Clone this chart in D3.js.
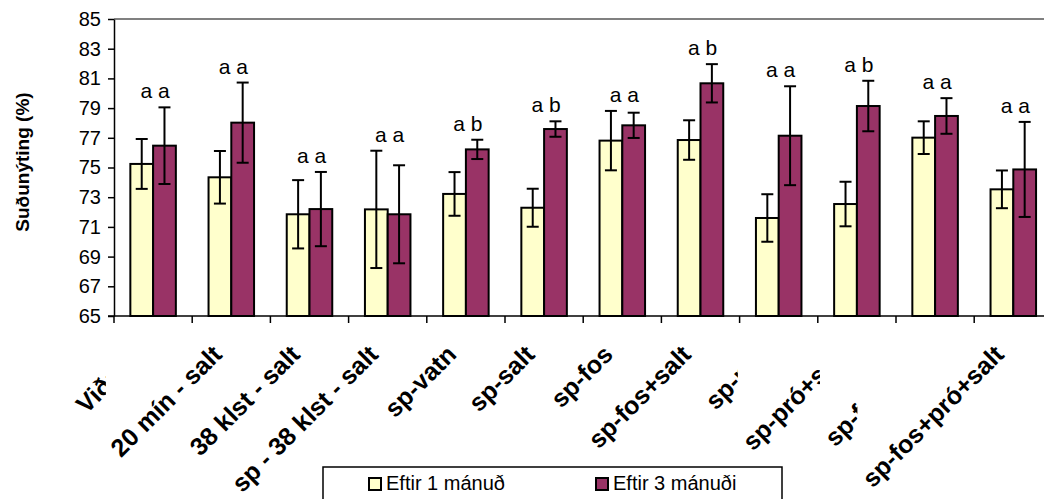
<!DOCTYPE html>
<html>
<head>
<meta charset="utf-8">
<script src="https://cdn.jsdelivr.net/npm/d3@7"></script>
<style>
  body { margin: 0; background: #fff; }
  svg { display: block; font-family: "Liberation Sans", Arial, sans-serif; }
</style>
</head>
<body>
<script>
// gögn lesin af myndinni
var categories = ["Viðmið", "20 mín - salt", "38 klst - salt", "sp - 38 klst - salt", "sp-vatn", "sp-salt",
                  "sp-fos", "sp-fos+salt", "sp-pró", "sp-pró+salt", "sp-fos+pró", "sp-fos+pró+salt"];
var month1 = [75.24, 74.34, 71.85, 72.18, 73.22, 72.29, 76.81, 76.85, 71.6, 72.54, 77.01, 73.53];
var month1Err = [1.68, 1.77, 2.3, 3.95, 1.47, 1.28, 2.0, 1.33, 1.6, 1.5, 1.1, 1.27];
var month3 = [76.47, 78.02, 72.2, 71.85, 76.22, 77.59, 77.84, 80.67, 77.14, 79.14, 78.47, 74.87];
var month3Err = [2.58, 2.7, 2.5, 3.3, 0.65, 0.52, 0.85, 1.29, 3.33, 1.7, 1.2, 3.2];
var sigLabels = ["a a", "a a", "a a", "a a", "a b", "a b", "a a", "a b", "a a", "a b", "a a", "a a"];
var seriesNames = ["Eftir 1 mánuð", "Eftir 3 mánuði"];
var yTicks = [65, 67, 69, 71, 73, 75, 77, 79, 81, 83, 85];
var clippedLabels = [0, 8, 9, 10]; // Excel felur hluta þessara merkja

var width = 1044, height = 499;
var plotLeft = 114, plotTop = 19, plotBottom = 316;
var step = 78.2;
var colors = ["#FFFFCC", "#993366"];

var svg = d3.select("body").append("svg")
            .attr("width", width)
            .attr("height", height);

var x0 = d3.scaleBand()
           .domain(categories)
           .range([plotLeft, plotLeft + step * categories.length])
           .paddingInner(0.418)
           .paddingOuter(0.209);

var x1 = d3.scaleBand()
           .domain([0, 1])
           .range([0, x0.bandwidth()]);

var y = d3.scaleLinear().domain([65, 85]).range([plotBottom, plotTop]);

// efri rammi
svg.append("line")
   .attr("x1", plotLeft).attr("x2", width)
   .attr("y1", plotTop).attr("y2", plotTop)
   .style("stroke", "#808080").style("stroke-width", 2);

var rows = categories.map(function(c, i) {
  return {cat: c, i: i,
          vals: [{s: 0, v: month1[i], e: month1Err[i]}, {s: 1, v: month3[i], e: month3Err[i]}]};
});

var groups = svg.selectAll("g.grp")
                .data(rows)
                .enter()
                .append("g")
                .attr("class", "grp")
                .attr("transform", function(d) { return "translate(" + x0(d.cat) + ",0)"; });

groups.selectAll("rect")
      .data(function(d) { return d.vals; })
      .enter()
      .append("rect")
      .attr("x", function(d) { return x1(d.s); })
      .attr("y", function(d) { return y(d.v); })
      .attr("width", x1.bandwidth())
      .attr("height", function(d) { return y(65) - y(d.v); })
      .attr("fill", function(d) { return colors[d.s]; })
      .style("stroke", "#000").style("stroke-width", 2);

// villustrik
var err = groups.selectAll("g.err")
                .data(function(d) { return d.vals; })
                .enter()
                .append("g")
                .attr("class", "err")
                .style("stroke", "#000").style("stroke-width", 2);

err.append("line")
   .attr("x1", function(d) { return x1(d.s) + x1.bandwidth() / 2; })
   .attr("x2", function(d) { return x1(d.s) + x1.bandwidth() / 2; })
   .attr("y1", function(d) { return y(d.v + d.e); })
   .attr("y2", function(d) { return y(d.v - d.e); });

[1, -1].forEach(function(sign) {
  err.append("line")
     .attr("x1", function(d) { return x1(d.s) + x1.bandwidth() / 2 - 6; })
     .attr("x2", function(d) { return x1(d.s) + x1.bandwidth() / 2 + 6; })
     .attr("y1", function(d) { return y(d.v + sign * d.e); })
     .attr("y2", function(d) { return y(d.v + sign * d.e); });
});

groups.append("text")
      .attr("x", x0.bandwidth() / 2 + 2)
      .attr("y", function(d) {
        return y(d3.max(d.vals, function(v) { return v.v + v.e; })) - 9;
      })
      .attr("text-anchor", "middle")
      .style("font-size", "21px")
      .text(function(d) { return sigLabels[d.i]; });

// y-ás
var yAxis = svg.append("g")
               .attr("transform", "translate(" + plotLeft + ",0)")
               .call(d3.axisLeft(y).tickValues(yTicks).tickSize(6).tickPadding(7).tickSizeOuter(0));
yAxis.selectAll("text").style("font-size", "20px").attr("fill", "#000");
yAxis.attr("font-family", null);
yAxis.selectAll("line, path").style("stroke", "#000").style("stroke-width", 1.5);

svg.append("text")
   .attr("transform", "translate(29,162) rotate(-90)")
   .attr("text-anchor", "middle")
   .style("font-size", "19px")
   .style("font-weight", "bold")
   .text("Suðunýting (%)");

// x-ás
svg.append("line")
   .attr("x1", plotLeft - 6).attr("x2", width)
   .attr("y1", plotBottom).attr("y2", plotBottom)
   .style("stroke", "#000").style("stroke-width", 1.5);

svg.selectAll("line.xtick")
   .data(categories)
   .enter()
   .append("line")
   .attr("class", "xtick")
   .attr("x1", function(d) { return x0(d) - x0.step() * 0.209; })
   .attr("x2", function(d) { return x0(d) - x0.step() * 0.209; })
   .attr("y1", plotBottom).attr("y2", plotBottom + 7)
   .style("stroke", "#000").style("stroke-width", 1.5);

var catLabels = svg.selectAll("text.cat")
                   .data(categories)
                   .enter()
                   .append("text")
                   .attr("class", "cat")
                   .attr("transform", function(d) {
                     return "translate(" + (x0(d) + x0.bandwidth() / 2 - 8) + ",356) rotate(-45)";
                   })
                   .attr("text-anchor", "end")
                   .style("font-size", "25px")
                   .style("font-weight", "bold")
                   .text(function(d) { return d; });

// klippa merki sem skarast við næsta merki
var svgBox = svg.node().getBoundingClientRect();
var defs = svg.append("defs");
clippedLabels.forEach(function(i) {
  var next = catLabels.nodes()[i + 1].getBoundingClientRect();
  var cut = next.left - svgBox.left + 1;
  defs.append("clipPath")
      .attr("id", "clip" + i)
      .attr("clipPathUnits", "userSpaceOnUse")
      .append("rect")
      .attr("x", 0).attr("y", 0)
      .attr("width", cut).attr("height", height);
  var g = svg.append("g").attr("clip-path", "url(#clip" + i + ")");
  g.node().appendChild(catLabels.nodes()[i]);
});

// skýringar
var legend = svg.append("g");
legend.append("rect")
      .attr("x", 323).attr("y", 467)
      .attr("width", 459).attr("height", 50)
      .attr("fill", "#fff")
      .style("stroke", "#000").style("stroke-width", 1.5);

var items = legend.selectAll("g.item")
                  .data(seriesNames)
                  .enter()
                  .append("g")
                  .attr("class", "item")
                  .attr("transform", function(d, i) { return "translate(" + (369 + i * 227) + ",478)"; });

items.append("rect")
     .attr("width", 12).attr("height", 12)
     .attr("fill", function(d, i) { return colors[i]; })
     .style("stroke", "#000").style("stroke-width", 2);

items.append("text")
     .attr("x", 17).attr("y", 12)
     .style("font-size", "20px")
     .text(function(d) { return d; });
</script>
</body>
</html>
